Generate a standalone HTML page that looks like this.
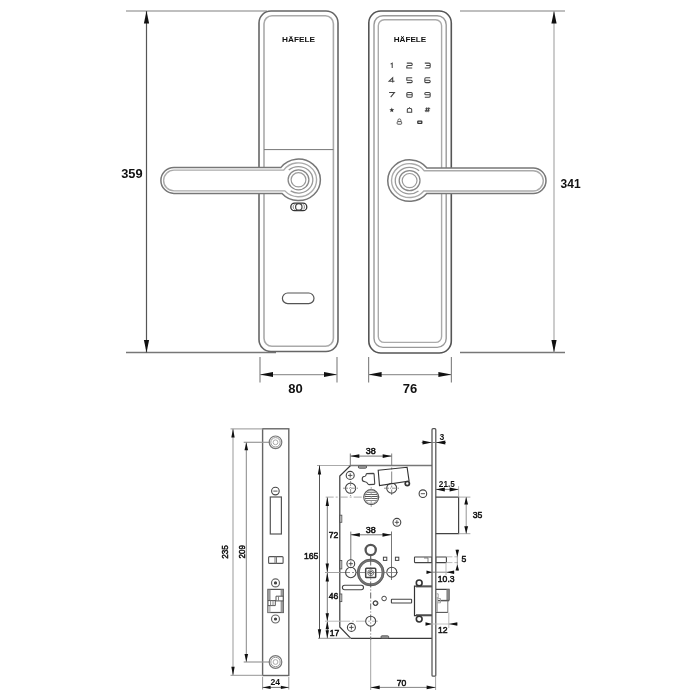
<!DOCTYPE html>
<html><head><meta charset="utf-8"><style>
html,body{margin:0;padding:0;background:#fff;}
svg{display:block;will-change:transform;}
text{font-family:"Liberation Sans",sans-serif;}
</style></head><body>
<svg width="700" height="700" viewBox="0 0 700 700">
<rect width="700" height="700" fill="#fff"/>
<line x1="126" y1="11" x2="267" y2="11" stroke="#aaa" stroke-width="1.4"/>
<line x1="126" y1="352.5" x2="276" y2="352.5" stroke="#777" stroke-width="1.4"/>
<line x1="146.5" y1="11" x2="146.5" y2="352.5" stroke="#555" stroke-width="1.2"/>
<polygon points="146.50,11.00 143.90,23.50 149.10,23.50" fill="#111"/>
<polygon points="146.50,352.50 143.90,340.00 149.10,340.00" fill="#111"/>
<text x="142.6" y="178.3" font-size="13" font-weight="bold" text-anchor="end" fill="#111" textLength="21.4" lengthAdjust="spacingAndGlyphs">359</text>
<rect x="259" y="11" width="79" height="340.5" rx="12" stroke="#666" stroke-width="1.6" fill="white"/>
<rect x="264" y="15.8" width="69.39999999999998" height="330.5" rx="8" stroke="#aaa" stroke-width="1.6" fill="none"/>
<line x1="264" y1="149.6" x2="333.4" y2="149.6" stroke="#777" stroke-width="1"/>
<text x="298.5" y="42.2" font-size="7.2" font-weight="bold" text-anchor="middle" fill="#111" textLength="33" lengthAdjust="spacingAndGlyphs">HÄFELE</text>
<rect x="282.4" y="293" width="31.600000000000023" height="10.600000000000023" rx="5.3" stroke="#555" stroke-width="1.2" fill="none"/>
<rect x="290.8" y="203.1" width="16.0" height="7.599999999999994" rx="3.8" stroke="#333" stroke-width="1.3" fill="none"/>
<circle cx="298.8" cy="206.9" r="3.2" stroke="#444" stroke-width="1.2" fill="none"/>
<path d="M 294.6 204.2 A 3.2 3.2 0 0 0 294.6 209.6" stroke="#888" stroke-width="1" fill="none"/>
<path d="M 303 204.2 A 3.2 3.2 0 0 1 303 209.6" stroke="#888" stroke-width="1" fill="none"/>
<path d="M 280.98 167.4 A 21.85 20.75 0 1 1 282.00 193.4 L 173.90 193.4 A 13.0 13.0 0 0 1 173.90 167.4 Z" stroke="#777" stroke-width="1.5" fill="white"/>
<path d="M 283.70 170.1 A 18.05 16.95 0 1 1 284.86 190.9 L 174.00 190.9 A 10.400000000000006 10.400000000000006 0 0 1 174.00 170.1 Z" stroke="#aaa" stroke-width="1.4" fill="none"/>
<path d="M 288.72 170.1 A 14.350000000000001 13.25 0 1 1 290.66 190.9" stroke="#999" stroke-width="1.3" fill="none"/>
<ellipse cx="298.5" cy="179.8" rx="10.4" ry="10" stroke="#888" stroke-width="1.3" fill="none"/>
<ellipse cx="298.5" cy="179.8" rx="7.4" ry="7.1" stroke="#999" stroke-width="1.2" fill="none"/>
<line x1="260" y1="357" x2="260" y2="382.5" stroke="#888" stroke-width="1.2"/>
<line x1="337" y1="357" x2="337" y2="382.5" stroke="#888" stroke-width="1.2"/>
<line x1="260" y1="374.6" x2="337" y2="374.6" stroke="#999" stroke-width="1.1"/>
<polygon points="260.00,374.60 273.00,372.10 273.00,377.10" fill="#111"/>
<polygon points="337.00,374.60 324.00,372.10 324.00,377.10" fill="#111"/>
<text x="295.5" y="392.8" font-size="13" font-weight="bold" text-anchor="middle" fill="#111">80</text>
<rect x="368.8" y="11" width="82.5" height="342" rx="12" stroke="#555" stroke-width="1.6" fill="white"/>
<rect x="374" y="15.7" width="72.19999999999999" height="331.7" rx="9" stroke="#999" stroke-width="1.4" fill="none"/>
<rect x="378.3" y="19.7" width="63.30000000000001" height="322.7" rx="6" stroke="#aaa" stroke-width="1.4" fill="none"/>
<text x="410" y="42.2" font-size="7.2" font-weight="bold" text-anchor="middle" fill="#111" textLength="32.5" lengthAdjust="spacingAndGlyphs">HÄFELE</text>
<path d="M 390.60 64.10 L 392.20 63.10 L 392.20 67.90" stroke="#444" stroke-width="1.05" fill="none"/>
<path d="M 406.8 63.1 L 411.09999999999997 63.1 Q 412.2 63.1 412.2 64.2 L 412.2 64.4 Q 412.2 65.5 411.09999999999997 65.5 L 407.90000000000003 65.5 Q 406.8 65.5 406.8 66.6 L 406.8 67.9 L 412.2 67.9" stroke="#444" stroke-width="1.05" fill="none"/>
<path d="M 424.8 63.1 L 429.09999999999997 63.1 Q 430.2 63.1 430.2 64.2 L 430.2 66.80000000000001 Q 430.2 67.9 429.09999999999997 67.9 L 424.8 67.9 M 426.2 65.5 L 430.2 65.5" stroke="#444" stroke-width="1.05" fill="none"/>
<path d="M 392.70000000000005 82.60000000000001 L 392.70000000000005 77.8 L 389.1 81.2 L 394.5 81.2" stroke="#444" stroke-width="1.05" fill="none"/>
<path d="M 412.2 77.8 L 406.8 77.8 L 406.8 80.2 L 411.09999999999997 80.2 Q 412.2 80.2 412.2 81.3 L 412.2 81.50000000000001 Q 412.2 82.60000000000001 411.09999999999997 82.60000000000001 L 406.8 82.60000000000001" stroke="#444" stroke-width="1.05" fill="none"/>
<path d="M 430.2 77.8 L 425.90000000000003 77.8 Q 424.8 77.8 424.8 78.89999999999999 L 424.8 81.50000000000001 Q 424.8 82.60000000000001 425.90000000000003 82.60000000000001 L 429.09999999999997 82.60000000000001 Q 430.2 82.60000000000001 430.2 81.50000000000001 L 430.2 81.3 Q 430.2 80.2 429.09999999999997 80.2 L 424.8 80.2" stroke="#444" stroke-width="1.05" fill="none"/>
<path d="M 389.1 92.39999999999999 L 394.5 92.39999999999999 L 390.70000000000005 97.2" stroke="#444" stroke-width="1.05" fill="none"/>
<path d="M 407.90000000000003 92.39999999999999 L 411.09999999999997 92.39999999999999 Q 412.2 92.39999999999999 412.2 93.49999999999999 L 412.2 96.10000000000001 Q 412.2 97.2 411.09999999999997 97.2 L 407.90000000000003 97.2 Q 406.8 97.2 406.8 96.10000000000001 L 406.8 93.49999999999999 Q 406.8 92.39999999999999 407.90000000000003 92.39999999999999 M 406.8 94.8 L 412.2 94.8" stroke="#444" stroke-width="1.05" fill="none"/>
<path d="M 424.8 97.2 L 429.09999999999997 97.2 Q 430.2 97.2 430.2 96.10000000000001 L 430.2 93.49999999999999 Q 430.2 92.39999999999999 429.09999999999997 92.39999999999999 L 425.90000000000003 92.39999999999999 Q 424.8 92.39999999999999 424.8 93.49999999999999 L 424.8 93.7 Q 424.8 94.8 425.90000000000003 94.8 L 430.2 94.8" stroke="#444" stroke-width="1.05" fill="none"/>
<path d="M 407.3 112.2 L 411.7 112.2 L 411.7 109.8 Q 411.7 108.19999999999999 409.5 108.19999999999999 Q 407.3 108.19999999999999 407.3 109.8 Z M 409.5 108.19999999999999 L 409.5 107.19999999999999" stroke="#444" stroke-width="1.05" fill="none"/>
<path d="M 426.9 107.39999999999999 L 425.9 112.2 M 428.9 107.39999999999999 L 427.9 112.2 M 425.40000000000003 108.8 L 430.2 108.8 M 424.8 110.8 L 429.59999999999997 110.8" stroke="#444" stroke-width="1.05" fill="none"/>
<polygon points="391.80,107.50 392.45,109.21 394.27,109.30 392.85,110.44 393.33,112.20 391.80,111.20 390.27,112.20 390.75,110.44 389.33,109.30 391.15,109.21" fill="#333"/>
<path d="M 397.9 121.6 L 397.9 120.4 A 1.5 1.5 0 0 1 400.9 120.4 L 400.9 121.6" stroke="#555" stroke-width="0.9" fill="none"/>
<rect x="397.2" y="121.6" width="4.400000000000034" height="2.6000000000000085" rx="0.6" stroke="#555" stroke-width="1" fill="none"/>
<rect x="417.8" y="121.2" width="4.0" height="2.200000000000003" rx="0.3" stroke="#333" stroke-width="1.3" fill="none"/>
<path d="M 426.96 168 A 21.85 20.75 0 1 0 426.71 193.5 L 533.25 193.5 A 12.75 12.75 0 0 0 533.25 168 Z" stroke="#777" stroke-width="1.5" fill="white"/>
<path d="M 424.25 170.7 A 18.05 16.95 0 1 0 423.85 191.0 L 533.15 191.0 A 10.150000000000006 10.150000000000006 0 0 0 533.15 170.7 Z" stroke="#aaa" stroke-width="1.4" fill="none"/>
<path d="M 419.14 170.7 A 14.350000000000001 13.25 0 1 0 418.49 191.0" stroke="#999" stroke-width="1.3" fill="none"/>
<ellipse cx="409.6" cy="180.6" rx="10.4" ry="10" stroke="#888" stroke-width="1.3" fill="none"/>
<ellipse cx="409.6" cy="180.6" rx="7.4" ry="7.1" stroke="#999" stroke-width="1.2" fill="none"/>
<line x1="460" y1="11" x2="565" y2="11" stroke="#aaa" stroke-width="1.4"/>
<line x1="460" y1="352.5" x2="565" y2="352.5" stroke="#777" stroke-width="1.4"/>
<line x1="554" y1="11" x2="554" y2="352.5" stroke="#aaa" stroke-width="1.2"/>
<polygon points="554.00,11.00 551.40,23.50 556.60,23.50" fill="#111"/>
<polygon points="554.00,352.50 551.40,340.00 556.60,340.00" fill="#111"/>
<text x="560.6" y="188.1" font-size="13" font-weight="bold" text-anchor="start" fill="#111" textLength="20" lengthAdjust="spacingAndGlyphs">341</text>
<line x1="368.6" y1="357" x2="368.6" y2="382.5" stroke="#888" stroke-width="1.2"/>
<line x1="451.4" y1="357" x2="451.4" y2="382.5" stroke="#888" stroke-width="1.2"/>
<line x1="368.6" y1="374.6" x2="451.4" y2="374.6" stroke="#999" stroke-width="1.1"/>
<polygon points="368.60,374.60 381.60,372.10 381.60,377.10" fill="#111"/>
<polygon points="451.40,374.60 438.40,372.10 438.40,377.10" fill="#111"/>
<text x="410" y="392.8" font-size="13" font-weight="bold" text-anchor="middle" fill="#111">76</text>
<rect x="262.6" y="428.8" width="26.19999999999999" height="246.7" rx="0" stroke="#666" stroke-width="1.4" fill="none"/>
<line x1="233" y1="428.8" x2="233" y2="675.5" stroke="#999" stroke-width="1"/>
<line x1="230.5" y1="428.8" x2="262.6" y2="428.8" stroke="#aaa" stroke-width="1.2"/>
<line x1="230.5" y1="675.4" x2="262.6" y2="675.4" stroke="#aaa" stroke-width="1.2"/>
<polygon points="233.00,428.80 231.30,437.50 234.70,437.50" fill="#111"/>
<polygon points="233.00,675.50 231.30,666.80 234.70,666.80" fill="#111"/>
<text x="228.3" y="551.9" font-size="9.3" font-weight="normal" text-anchor="middle" fill="#111" transform="rotate(-90 228.3 551.9)" stroke="#111" stroke-width="0.5" textLength="13.7" lengthAdjust="spacingAndGlyphs">235</text>
<line x1="246.3" y1="442.3" x2="246.3" y2="662" stroke="#888" stroke-width="1"/>
<line x1="243.7" y1="442.3" x2="270" y2="442.3" stroke="#999" stroke-width="1.2"/>
<line x1="243.7" y1="662" x2="270" y2="662" stroke="#999" stroke-width="1.2"/>
<polygon points="246.30,442.30 244.50,450.30 248.10,450.30" fill="#111"/>
<polygon points="246.30,662.00 244.50,654.00 248.10,654.00" fill="#111"/>
<text x="244.6" y="551.7" font-size="9.3" font-weight="normal" text-anchor="middle" fill="#111" transform="rotate(-90 244.6 551.7)" stroke="#111" stroke-width="0.5" textLength="13.4" lengthAdjust="spacingAndGlyphs">209</text>
<circle cx="275.5" cy="442.3" r="6.3" stroke="#777" stroke-width="1.2" fill="none"/>
<circle cx="275.5" cy="442.3" r="4.7" stroke="#999" stroke-width="1" fill="none"/>
<circle cx="275.5" cy="442.3" r="2.4" stroke="#aaa" stroke-width="1" fill="none"/>
<circle cx="275.5" cy="662" r="6.3" stroke="#777" stroke-width="1.2" fill="none"/>
<circle cx="275.5" cy="662" r="4.7" stroke="#999" stroke-width="1" fill="none"/>
<circle cx="275.5" cy="662" r="2.4" stroke="#aaa" stroke-width="1" fill="none"/>
<circle cx="275.4" cy="491.1" r="3.8" stroke="#444" stroke-width="1.1" fill="none"/>
<line x1="273.31" y1="491.1" x2="277.48999999999995" y2="491.1" stroke="#444" stroke-width="0.9"/>
<rect x="270.3" y="497" width="11.099999999999966" height="37" rx="0" stroke="#555" stroke-width="1.2" fill="none"/>
<rect x="268.6" y="556.6" width="14.5" height="6.7999999999999545" rx="1" stroke="#555" stroke-width="1.1" fill="none"/>
<line x1="275" y1="556.6" x2="275" y2="563.4" stroke="#777" stroke-width="1"/>
<line x1="276.5" y1="556.6" x2="276.5" y2="563.4" stroke="#777" stroke-width="1"/>
<circle cx="275.5" cy="582.9" r="4.0" stroke="#666" stroke-width="1.2" fill="none"/>
<circle cx="275.5" cy="582.9" r="1.0" stroke="#444" stroke-width="1.2" fill="#444"/>
<circle cx="275.5" cy="619.0" r="4.0" stroke="#666" stroke-width="1.2" fill="none"/>
<circle cx="275.5" cy="619.0" r="1.0" stroke="#444" stroke-width="1.2" fill="#444"/>
<rect x="267.9" y="589.4" width="15.400000000000034" height="23.100000000000023" rx="0" stroke="#555" stroke-width="1.2" fill="none"/>
<rect x="268" y="589.6" width="2.6" height="11" fill="#999"/>
<rect x="268" y="605.6" width="2.6" height="6.8" fill="#bbb"/>
<rect x="280.6" y="589.6" width="2.6" height="6.6" fill="#999"/>
<rect x="280.6" y="600.9" width="2.6" height="11.5" fill="#999"/>
<path d="M 267.9 600.6 L 276 600.6 L 276 596.2 L 283.3 596.2" stroke="#555" stroke-width="1" fill="none"/>
<path d="M 267.9 605.6 L 275.3 605.6 L 275.3 600.9 L 283.3 600.9" stroke="#555" stroke-width="1" fill="none"/>
<line x1="270.6" y1="600.6" x2="270.6" y2="605.6" stroke="#777" stroke-width="0.9"/>
<line x1="273" y1="600.6" x2="273" y2="605.6" stroke="#777" stroke-width="0.9"/>
<line x1="278.5" y1="596.2" x2="278.5" y2="600.9" stroke="#777" stroke-width="0.9"/>
<line x1="262.6" y1="677" x2="262.6" y2="689.5" stroke="#999" stroke-width="1"/>
<line x1="288.8" y1="677" x2="288.8" y2="689.5" stroke="#999" stroke-width="1"/>
<line x1="262.6" y1="687.4" x2="288.8" y2="687.4" stroke="#777" stroke-width="1"/>
<polygon points="262.60,687.40 270.60,685.80 270.60,689.00" fill="#111"/>
<polygon points="288.80,687.40 280.80,685.80 280.80,689.00" fill="#111"/>
<text x="275.2" y="684.6" font-size="8.6" font-weight="bold" text-anchor="middle" fill="#111">24</text>
<line x1="317" y1="465.5" x2="350.6" y2="465.5" stroke="#aaa" stroke-width="1.2"/>
<line x1="350.6" y1="465.5" x2="432" y2="465.5" stroke="#777" stroke-width="1.5"/>
<path d="M 350.6 465.5 L 339.8 476 L 339.8 627 L 350.8 638.3 L 432 638.3" stroke="#3a3a3a" stroke-width="1.2" fill="none"/>
<line x1="318" y1="638.3" x2="350.8" y2="638.3" stroke="#aaa" stroke-width="1.2"/>
<line x1="319.5" y1="465.5" x2="319.5" y2="638.3" stroke="#555" stroke-width="1"/>
<polygon points="319.50,465.50 317.80,474.50 321.20,474.50" fill="#111"/>
<polygon points="319.50,638.30 317.80,629.30 321.20,629.30" fill="#111"/>
<text x="311.2" y="559.4" font-size="8.6" font-weight="normal" text-anchor="middle" fill="#111" stroke="#111" stroke-width="0.5">165</text>
<line x1="327.3" y1="497.1" x2="327.3" y2="638.3" stroke="#777" stroke-width="1"/>
<polygon points="327.30,497.10 325.60,506.10 329.00,506.10" fill="#111"/>
<polygon points="327.30,572.50 325.60,563.50 329.00,563.50" fill="#111"/>
<polygon points="327.30,572.50 325.60,581.50 329.00,581.50" fill="#111"/>
<polygon points="327.30,621.20 325.60,613.20 329.00,613.20" fill="#111"/>
<polygon points="327.30,621.20 325.60,629.20 329.00,629.20" fill="#111"/>
<polygon points="327.30,638.30 325.60,630.30 329.00,630.30" fill="#111"/>
<text x="333.6" y="537.8" font-size="8.6" font-weight="normal" text-anchor="middle" fill="#111" stroke="#111" stroke-width="0.5">72</text>
<text x="333.6" y="598.8" font-size="8.6" font-weight="normal" text-anchor="middle" fill="#111" stroke="#111" stroke-width="0.5">46</text>
<text x="334.6" y="636.2" font-size="8.6" font-weight="normal" text-anchor="middle" fill="#111" stroke="#111" stroke-width="0.5">17</text>
<line x1="325.7" y1="497.1" x2="381" y2="497.1" stroke="#999" stroke-width="0.8" stroke-dasharray="8 2 2 2"/>
<line x1="325" y1="572.5" x2="340" y2="572.5" stroke="#999" stroke-width="0.9"/>
<line x1="340" y1="572.5" x2="400" y2="572.5" stroke="#777" stroke-width="0.8" stroke-dasharray="10 2 2 2"/>
<line x1="325" y1="621.2" x2="340" y2="621.2" stroke="#bbb" stroke-width="1"/>
<line x1="340" y1="621.2" x2="378" y2="621.2" stroke="#aaa" stroke-width="0.8" stroke-dasharray="10 2 2 2"/>
<line x1="350.3" y1="453.5" x2="350.3" y2="465.5" stroke="#777" stroke-width="1"/>
<line x1="391.7" y1="453.5" x2="391.7" y2="495" stroke="#777" stroke-width="0.9" stroke-dasharray="12 2 2 2"/>
<line x1="350.3" y1="456.1" x2="391.7" y2="456.1" stroke="#777" stroke-width="1"/>
<polygon points="350.30,456.10 359.30,454.20 359.30,458.00" fill="#111"/>
<polygon points="391.70,456.10 382.70,454.20 382.70,458.00" fill="#111"/>
<text x="370.7" y="454" font-size="8.2" font-weight="normal" text-anchor="middle" fill="#111" stroke="#111" stroke-width="0.5" textLength="10" lengthAdjust="spacingAndGlyphs">38</text>
<line x1="350.8" y1="531.6" x2="350.8" y2="560" stroke="#777" stroke-width="1"/>
<line x1="391.5" y1="531.5" x2="391.5" y2="580" stroke="#777" stroke-width="1"/>
<line x1="350.8" y1="534.8" x2="391.5" y2="534.8" stroke="#777" stroke-width="1"/>
<polygon points="350.80,534.80 359.80,532.90 359.80,536.70" fill="#111"/>
<polygon points="391.50,534.80 382.50,532.90 382.50,536.70" fill="#111"/>
<text x="370.8" y="532.7" font-size="8.2" font-weight="normal" text-anchor="middle" fill="#111" stroke="#111" stroke-width="0.5" textLength="10" lengthAdjust="spacingAndGlyphs">38</text>
<rect x="358.3" y="465.8" width="8.300000000000011" height="2.3999999999999773" rx="1.2" stroke="#555" stroke-width="1" fill="#aaa"/>
<circle cx="350.2" cy="475.4" r="4.0" stroke="#444" stroke-width="1.1" fill="none"/>
<line x1="348.0" y1="475.4" x2="352.4" y2="475.4" stroke="#444" stroke-width="0.9"/>
<line x1="350.2" y1="473.2" x2="350.2" y2="477.59999999999997" stroke="#444" stroke-width="0.9"/>
<circle cx="350.6" cy="488.2" r="5.1" stroke="#444" stroke-width="1.1" fill="none"/>
<line x1="343" y1="488.2" x2="359" y2="488.2" stroke="#777" stroke-width="0.8" stroke-dasharray="5 1 1 1"/>
<line x1="350.6" y1="481" x2="350.6" y2="496" stroke="#777" stroke-width="0.8" stroke-dasharray="5 1 1 1"/>
<circle cx="391.7" cy="488.2" r="5.0" stroke="#444" stroke-width="1.1" fill="none"/>
<line x1="384" y1="488.2" x2="399" y2="488.2" stroke="#777" stroke-width="0.8" stroke-dasharray="5 1 1 1"/>
<path d="M 366.8 473.6 L 373.2 473.4 Q 374 473.4 374.1 474.3 L 374.7 483.4 Q 374.8 484.4 373.8 484.4 L 369 484.6 Q 368.2 484.6 367.8 483.8 Q 367 482 365 481.8 Q 362.2 481.6 362.2 479 Q 362.3 476.4 365 476.3 Q 366 476.2 366.2 474.3 Q 366.3 473.6 366.8 473.6 Z" stroke="#444" stroke-width="1.1" fill="none"/>
<path d="M 378.2 470.2 L 407.1 467.3 L 409.1 481.1 L 379.5 485.6 Z" stroke="#333" stroke-width="1.1" fill="none"/>
<circle cx="407.3" cy="483.6" r="2.1" stroke="#333" stroke-width="1.7" fill="none"/>
<circle cx="371.2" cy="497.1" r="7.5" stroke="#555" stroke-width="1.1" fill="white"/>
<circle cx="371.2" cy="497.1" r="6.4" stroke="#999" stroke-width="0.8" fill="none"/>
<line x1="366.7502809077426" y1="492.5" x2="375.6497190922574" y2="492.5" stroke="#888" stroke-width="1"/>
<line x1="365.35192339311465" y1="494.5" x2="377.04807660688533" y2="494.5" stroke="#666" stroke-width="1"/>
<line x1="364.8281870711704" y1="496.5" x2="377.57181292882956" y2="496.5" stroke="#555" stroke-width="1.0"/>
<line x1="364.9550020016016" y1="498.5" x2="377.4449979983984" y2="498.5" stroke="#666" stroke-width="1"/>
<line x1="365.7778233153096" y1="500.5" x2="376.6221766846904" y2="500.5" stroke="#888" stroke-width="1"/>
<line x1="371.2" y1="487" x2="371.2" y2="507" stroke="#999" stroke-width="0.8" stroke-dasharray="3 1.5"/>
<rect x="339.6" y="515.2" width="2.1999999999999886" height="7.099999999999909" rx="0" stroke="#555" stroke-width="0.9" fill="none"/>
<rect x="339.6" y="560.5" width="2.1999999999999886" height="8.399999999999977" rx="0" stroke="#555" stroke-width="0.9" fill="none"/>
<rect x="339.6" y="594" width="2.1999999999999886" height="7.600000000000023" rx="0" stroke="#555" stroke-width="0.9" fill="none"/>
<circle cx="396.9" cy="522.3" r="3.9" stroke="#444" stroke-width="1.1" fill="none"/>
<line x1="394.755" y1="522.3" x2="399.04499999999996" y2="522.3" stroke="#444" stroke-width="0.9"/>
<line x1="396.9" y1="520.155" x2="396.9" y2="524.4449999999999" stroke="#444" stroke-width="0.9"/>
<circle cx="422.9" cy="493.7" r="3.8" stroke="#444" stroke-width="1.1" fill="none"/>
<line x1="420.81" y1="493.7" x2="424.98999999999995" y2="493.7" stroke="#444" stroke-width="0.9"/>
<circle cx="370.7" cy="550" r="5.1" stroke="#555" stroke-width="2.3" fill="none"/>
<line x1="370.7" y1="555.5" x2="370.7" y2="559.5" stroke="#555" stroke-width="1.1"/>
<circle cx="370.7" cy="572.5" r="12.4" stroke="#777" stroke-width="2.6" fill="none"/>
<circle cx="370.7" cy="572.5" r="13.3" stroke="#555" stroke-width="0.8" fill="none"/>
<circle cx="370.7" cy="572.5" r="11.5" stroke="#666" stroke-width="0.8" fill="none"/>
<rect x="365.7" y="568.2" width="10.0" height="9.299999999999955" rx="0.8" stroke="#444" stroke-width="1.5" fill="none"/>
<circle cx="370.7" cy="572.7" r="3.0" stroke="#777" stroke-width="1" fill="none"/>
<ellipse cx="370.7" cy="572.5" rx="1.8" ry="1.1" stroke="#555" stroke-width="0.9" fill="none"/>
<line x1="370.7" y1="559.5" x2="370.7" y2="640" stroke="#555" stroke-width="0.9" stroke-dasharray="6 2 1 2"/>
<rect x="383.4" y="557.2" width="3.400000000000034" height="3.199999999999932" rx="0" stroke="#444" stroke-width="1" fill="none"/>
<rect x="395.4" y="557.2" width="3.400000000000034" height="3.199999999999932" rx="0" stroke="#444" stroke-width="1" fill="none"/>
<circle cx="350.8" cy="563.7" r="3.9" stroke="#444" stroke-width="1.1" fill="none"/>
<line x1="348.65500000000003" y1="563.7" x2="352.945" y2="563.7" stroke="#444" stroke-width="0.9"/>
<line x1="350.8" y1="561.5550000000001" x2="350.8" y2="565.845" stroke="#444" stroke-width="0.9"/>
<circle cx="350.8" cy="572.5" r="5.2" stroke="#444" stroke-width="1.1" fill="none"/>
<circle cx="391.8" cy="572.2" r="5.0" stroke="#444" stroke-width="1.1" fill="none"/>
<rect x="342.4" y="585.3" width="21.100000000000023" height="4.400000000000091" rx="2.2" stroke="#444" stroke-width="1.1" fill="none"/>
<circle cx="375.7" cy="603.2" r="2.3" stroke="#444" stroke-width="1" fill="none"/>
<circle cx="384.1" cy="598.5" r="2.3" stroke="#444" stroke-width="1" fill="none"/>
<rect x="391.4" y="599.2" width="20.200000000000045" height="3.7999999999999545" rx="0.5" stroke="#444" stroke-width="1.1" fill="none"/>
<circle cx="370.7" cy="621.2" r="5.0" stroke="#444" stroke-width="1.1" fill="none"/>
<circle cx="351.4" cy="627.4" r="4.0" stroke="#444" stroke-width="1.1" fill="none"/>
<line x1="349.2" y1="627.4" x2="353.59999999999997" y2="627.4" stroke="#444" stroke-width="0.9"/>
<line x1="351.4" y1="625.1999999999999" x2="351.4" y2="629.6" stroke="#444" stroke-width="0.9"/>
<circle cx="375.2" cy="603.2" r="2.2" stroke="#444" stroke-width="1" fill="none"/>
<rect x="381" y="635.8" width="7.699999999999989" height="2.5" rx="1" stroke="#555" stroke-width="0.9" fill="#999"/>
<path d="M 432 586.1 L 414.5 586.1 L 414.5 615.6 L 432 615.6" stroke="#333" stroke-width="1.2" fill="none"/>
<line x1="416" y1="586.6" x2="432" y2="586.6" stroke="#555" stroke-width="1.6"/>
<line x1="416" y1="615" x2="432" y2="615" stroke="#555" stroke-width="1.6"/>
<circle cx="419.2" cy="582.9" r="2.9" stroke="#333" stroke-width="1.6" fill="none"/>
<circle cx="419.2" cy="619.1" r="2.9" stroke="#333" stroke-width="1.6" fill="none"/>
<rect x="414.5" y="557" width="17.5" height="5.600000000000023" rx="0.5" stroke="#444" stroke-width="1.1" fill="none"/>
<path d="M 424 558 L 428 558 L 428 562" stroke="#666" stroke-width="0.8" fill="none"/>
<rect x="435.8" y="557" width="10.599999999999966" height="5.600000000000023" rx="0.5" stroke="#444" stroke-width="1.1" fill="none"/>
<rect x="432" y="428.7" width="3.8000000000000114" height="247.50000000000006" rx="1" stroke="#555" stroke-width="1.25" fill="white"/>
<path d="M 435.8 497.1 L 458.6 497.1 L 458.6 533.7 L 435.8 533.7" stroke="#444" stroke-width="1.2" fill="none"/>
<line x1="458.6" y1="497.1" x2="470.4" y2="497.1" stroke="#aaa" stroke-width="1"/>
<line x1="458.6" y1="533.7" x2="470.4" y2="533.7" stroke="#aaa" stroke-width="1"/>
<line x1="466.2" y1="497.1" x2="466.2" y2="533.7" stroke="#888" stroke-width="0.9"/>
<polygon points="466.20,497.10 464.30,504.60 468.10,504.60" fill="#111"/>
<polygon points="466.20,533.70 464.30,526.20 468.10,526.20" fill="#111"/>
<text x="477.5" y="518.4" font-size="8.6" font-weight="normal" text-anchor="middle" fill="#111" stroke="#111" stroke-width="0.5">35</text>
<line x1="421.6" y1="442.5" x2="446" y2="442.5" stroke="#777" stroke-width="0.9"/>
<polygon points="432.00,442.50 422.50,440.50 422.50,444.50" fill="#111"/>
<polygon points="435.80,442.50 445.30,440.50 445.30,444.50" fill="#111"/>
<text x="442" y="440.2" font-size="8.6" font-weight="bold" text-anchor="middle" fill="#111">3</text>
<line x1="435.8" y1="489.4" x2="458.6" y2="489.4" stroke="#777" stroke-width="0.9"/>
<line x1="458.6" y1="486.2" x2="458.6" y2="497.1" stroke="#aaa" stroke-width="0.9"/>
<polygon points="435.80,489.40 444.80,487.40 444.80,491.40" fill="#111"/>
<polygon points="458.60,489.40 449.60,487.40 449.60,491.40" fill="#111"/>
<text x="446.8" y="487.1" font-size="8.2" font-weight="bold" text-anchor="middle" fill="#111">21.5</text>
<line x1="446.4" y1="556.8" x2="458" y2="556.8" stroke="#aaa" stroke-width="0.8" stroke-dasharray="6 2"/>
<line x1="446.4" y1="562.6" x2="458" y2="562.6" stroke="#aaa" stroke-width="0.8" stroke-dasharray="6 2"/>
<line x1="457.3" y1="549.5" x2="457.3" y2="570.7" stroke="#888" stroke-width="0.8"/>
<polygon points="457.30,556.80 455.50,549.80 459.10,549.80" fill="#111"/>
<polygon points="457.30,564.60 455.50,570.60 459.10,570.60" fill="#111"/>
<text x="463.8" y="561.8" font-size="8.6" font-weight="normal" text-anchor="middle" fill="#111" stroke="#111" stroke-width="0.5">5</text>
<line x1="426.8" y1="572.2" x2="454.3" y2="572.2" stroke="#777" stroke-width="0.9"/>
<line x1="446" y1="562.6" x2="446" y2="575" stroke="#aaa" stroke-width="0.8"/>
<polygon points="432.00,572.20 426.50,570.40 426.50,574.00" fill="#111"/>
<polygon points="446.60,572.20 454.10,570.40 454.10,574.00" fill="#111"/>
<text x="446.2" y="582.1" font-size="8.6" font-weight="normal" text-anchor="middle" fill="#111" stroke="#111" stroke-width="0.5">10.3</text>
<path d="M 435.9 589.4 L 449.1 589.4 L 449.1 600.6" stroke="#444" stroke-width="1.1" fill="none"/>
<rect x="446.4" y="589.4" width="2.7" height="11.2" fill="#888"/>
<line x1="438" y1="600.6" x2="449.1" y2="600.6" stroke="#555" stroke-width="1.5"/>
<line x1="447.8" y1="600.6" x2="447.8" y2="612.4" stroke="#777" stroke-width="1"/>
<line x1="435.9" y1="612.4" x2="447.8" y2="612.4" stroke="#555" stroke-width="1.1"/>
<rect x="436" y="597" width="1.8" height="15" fill="#aaa"/>
<path d="M 436.5 593.8 L 438.2 593.8 L 438.2 598.5 L 440.5 598.5 L 440.5 602.8 L 437.5 602.8" stroke="#999" stroke-width="0.9" fill="none"/>
<line x1="426.3" y1="624" x2="457.8" y2="624" stroke="#bbb" stroke-width="0.9"/>
<line x1="448.8" y1="612.4" x2="448.8" y2="628" stroke="#aaa" stroke-width="0.8"/>
<polygon points="432.00,624.00 425.50,622.20 425.50,625.80" fill="#111"/>
<polygon points="448.80,624.00 457.30,622.20 457.30,625.80" fill="#111"/>
<text x="442.7" y="632.7" font-size="8.6" font-weight="normal" text-anchor="middle" fill="#111" stroke="#111" stroke-width="0.5">12</text>
<line x1="370.7" y1="638.3" x2="370.7" y2="690" stroke="#999" stroke-width="0.9"/>
<line x1="435.6" y1="676.2" x2="435.6" y2="690" stroke="#999" stroke-width="0.9"/>
<line x1="370.7" y1="687.4" x2="435.6" y2="687.4" stroke="#777" stroke-width="0.9"/>
<polygon points="370.70,687.40 379.70,685.50 379.70,689.30" fill="#111"/>
<polygon points="435.60,687.40 426.60,685.50 426.60,689.30" fill="#111"/>
<text x="401.6" y="686" font-size="8.6" font-weight="normal" text-anchor="middle" fill="#111" stroke="#111" stroke-width="0.5">70</text>
</svg></body></html>
